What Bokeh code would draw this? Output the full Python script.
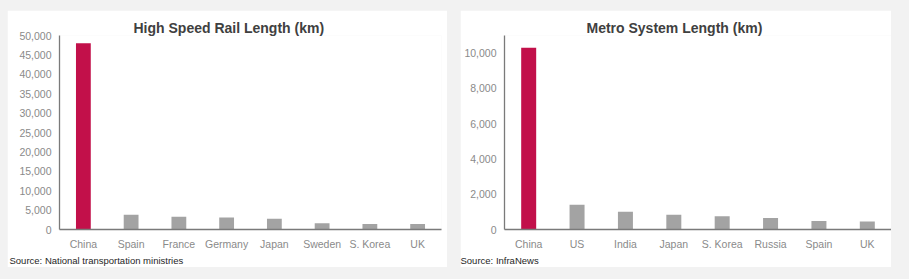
from bokeh.plotting import figure
from bokeh.models import NumeralTickFormatter, FixedTicker, Range1d, Title
from bokeh.layouts import row
from bokeh.embed import file_html
from bokeh.resources import INLINE

hsr_countries = ["China", "Spain", "France", "Germany", "Japan", "Sweden", "S. Korea", "UK"]
hsr_km = [48000, 3800, 3300, 3100, 2800, 1600, 1400, 1400]

metro_countries = ["China", "US", "India", "Japan", "S. Korea", "Russia", "Spain", "UK"]
metro_km = [10300, 1400, 1000, 830, 750, 650, 480, 460]

RED = "#c2104a"
GRAY = "#a3a3a3"
FONT = "Liberation Sans"


def make(cats, vals, ymax, yticks, title, source, w, h, ml, mr, mb, title_off, src_off):
    p = figure(x_range=cats, y_range=Range1d(0, ymax), width=w, height=h,
               output_backend="svg", toolbar_location=None,
               min_border_left=ml, min_border_right=mr, min_border_top=25,
               min_border_bottom=mb, background_fill_color="white",
               border_fill_color="white", outline_line_color=None)
    colors = [RED if c == "China" else GRAY for c in cats]
    p.vbar(x=cats, top=vals, width=0.31, color=colors, line_color=None)
    p.grid.visible = False
    for ax in (p.xaxis[0], p.yaxis[0]):
        ax.axis_line_color = "#7a7a7a"
        ax.axis_line_width = 1.3
        ax.major_tick_line_color = None
        ax.minor_tick_line_color = None
        ax.major_tick_out = 0
        ax.major_tick_in = 0
        ax.major_label_text_color = "#8a8a8a"
        ax.major_label_text_font = FONT
        ax.major_label_text_font_size = "10.5px"
    p.yaxis[0].ticker = FixedTicker(ticks=yticks)
    p.yaxis[0].formatter = NumeralTickFormatter(format="0,0")
    p.yaxis[0].major_label_standoff = 8
    p.xaxis[0].major_label_standoff = 8
    p.x_range.range_padding = 0
    p.title.text = title
    p.title.align = "left"
    p.title.offset = title_off
    p.title.standoff = 0
    p.title.text_font = FONT
    p.title.text_font_style = "bold"
    p.title.text_font_size = "14px"
    p.title.text_color = "#404040"
    p.add_layout(Title(text=source, align="left", offset=src_off, text_font=FONT,
                       text_font_style="normal", text_font_size="9.5px",
                       text_color="#262626", standoff=0), "below")
    return p


p1 = make(hsr_countries, hsr_km, 50000, list(range(0, 50001, 5000)),
          "High Speed Rail Length (km)", "Source: National transportation ministries",
          440, 257, 52, 6, 36, 74, -50)
p1.margin = (10, 0, 12, 7)

p2 = make(metro_countries, metro_km, 11000, list(range(0, 10001, 2000)),
          "Metro System Length (km)", "Source: InfraNews",
          431, 257, 44, 0, 38, 82, -44)
p2.margin = (10, 18, 12, 13)

layout = row(p1, p2, styles={"background-color": "#f2f2f2"})
layout.margin = 0

with open("out.html", "w") as f:
    f.write(file_html(layout, INLINE))
